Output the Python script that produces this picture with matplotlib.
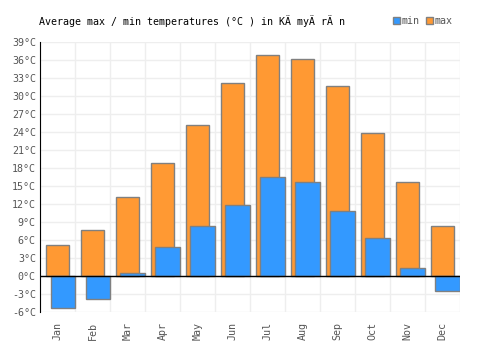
import numpy as np
from matplotlib import pyplot as plt
from matplotlib.patches import Patch

months = ["Jan", "Feb", "Mar", "Apr", "May", "Jun",
          "Jul", "Aug", "Sep", "Oct", "Nov", "Dec"]
t_max = [5.1, 7.7, 13.1, 18.8, 25.2, 32.2, 36.9, 36.1, 31.6, 23.9, 15.7, 8.3]
t_min = [-5.3, -3.8, 0.5, 4.8, 8.4, 11.8, 16.5, 15.6, 10.8, 6.3, 1.3, -2.5]
yticks = list(range(-6, 40, 3))

plt.rcParams["font.family"] = "DejaVu Sans Mono"
fs = 7.2

fig = plt.figure(figsize=(5, 3.5), dpi=100)
ax = fig.add_axes([0.08, 0.1086, 0.84, 0.7714])

x = np.arange(len(months))
edge = "#808080"
ax.bar(x - 0.33, t_max, width=0.67, align="edge", color="#ff9933",
       edgecolor=edge, linewidth=1, zorder=2)
ax.bar(x - 0.2, t_min, width=0.7, align="edge", color="#3399ff",
       edgecolor=edge, linewidth=1, zorder=3)

ax.set_xlim(-0.5, 11.5)
ax.set_ylim(-6, 39)
ax.set_yticks(yticks)
ax.set_yticklabels([f"{v}°C" for v in yticks])
ax.set_xticks(x)
ax.set_xticklabels(months, rotation=90)
ax.set_xticks(np.arange(-0.5, 12, 1), minor=True)

ax.tick_params(axis="both", which="both", length=0, labelsize=fs,
               labelcolor="#555555")
ax.tick_params(axis="x", pad=7)
ax.tick_params(axis="y", pad=3)
ax.grid(axis="y", which="major", color="#eeeeee", linewidth=1, zorder=0)
ax.grid(axis="x", which="minor", color="#eeeeee", linewidth=1, zorder=0)
ax.set_axisbelow(True)
ax.axhline(0, color="black", linewidth=1, zorder=4)

for s in ["top", "right", "bottom"]:
    ax.spines[s].set_visible(False)
ax.spines["left"].set_color("black")
ax.spines["left"].set_zorder(4)

fig.text(0.078, 0.94, "Average max / min temperatures (°C ) in KÄ myÄ rÄ n",
         fontsize=fs, color="black", va="center")

handles = [Patch(facecolor="#3399ff", edgecolor=edge, label="min"),
           Patch(facecolor="#ff9933", edgecolor=edge, label="max")]
fig.legend(handles=handles, loc="center", bbox_to_anchor=(0.845, 0.94),
           ncol=2, frameon=False, fontsize=fs, handlelength=0.7,
           handleheight=0.7, handletextpad=0.2, columnspacing=0.6,
           labelcolor="#555555", borderpad=0, borderaxespad=0)

plt.savefig("out.png", dpi=100)
